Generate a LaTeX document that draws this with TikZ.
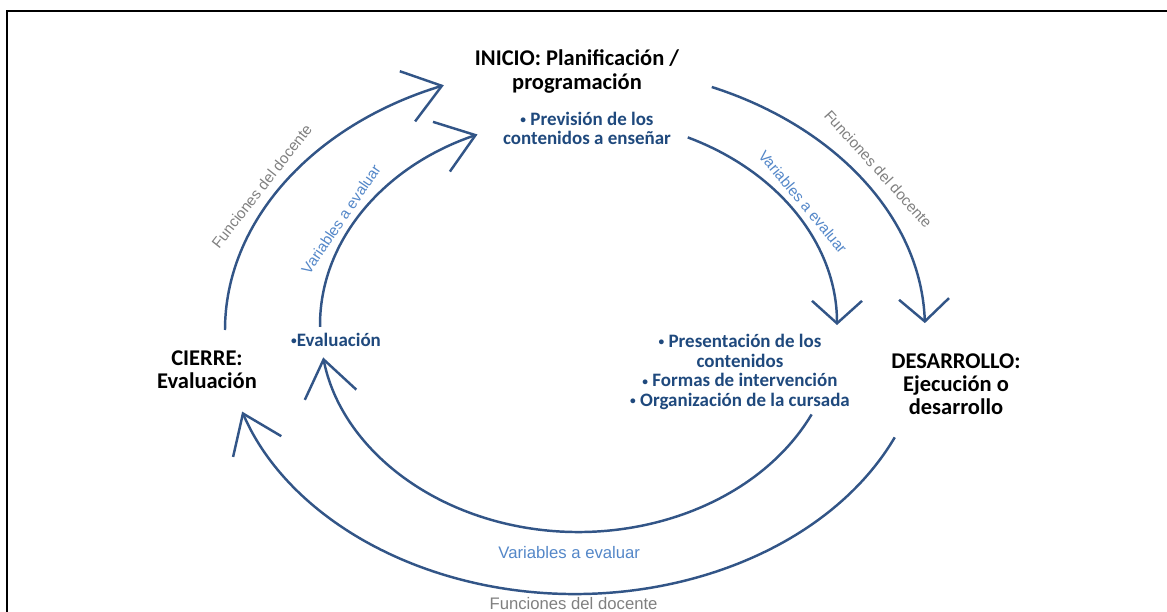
\documentclass[tikz,border=0pt]{standalone}
\usepackage{fontspec}
\setmainfont{Carlito}
\newfontfamily\arialfont{Liberation Sans}
\usetikzlibrary{arrows.meta}
\definecolor{flechaazul}{RGB}{50,85,135}
\definecolor{textoazul}{RGB}{31,73,125}
\definecolor{azulclaro}{RGB}{84,135,200}
\definecolor{gris}{RGB}{128,128,128}
\newcommand{\vineta}{{\fontsize{6.5}{6.5}\selectfont\raisebox{0.3ex}{•}}}

\begin{document}
\begin{tikzpicture}[x=0.02cm, y=0.02cm,
    flecha/.style={draw=flechaazul, line width=1.4pt, line join=round, -{Straight Barb[length=0.72cm, width=1.05cm]}},
    flechacorta/.style={flecha, -{Straight Barb[length=0.45cm, width=1.0cm]}},
    elipext/.style={x radius=350, y radius=264},
    elipint/.style={x radius=258.5, y radius=207},
    etapa/.style={align=center, font=\bfseries\fontsize{12.8}{13.2}\selectfont},
    tarea/.style={align=center, text=textoazul, font=\bfseries\fontsize{10.8}{11.2}\selectfont},
    funcion/.style={text=gris, font=\arialfont\fontsize{9.5}{11}\selectfont},
    evalvar/.style={text=azulclaro, font=\arialfont\fontsize{9.5}{11}\selectfont},
    curva/.style={sloped, font=\arialfont\fontsize{8.6}{10}\selectfont}]
        \useasboundingbox (0,0) rectangle (1167,-612);
        %marco
        \draw[line width=1.2pt] (7,-612) -- (7,-11) -- (1167,-11);

        %centros
        \coordinate (ext) at (575,-330);
        \coordinate (int) at (578.5,-325);

        %etapas
        \node[etapa, name=inicio    ] at (577,-71.5) {INICIO: Planificación /\\programación};
        \node[etapa, name=desarrollo] at (956,-384)  {DESARROLLO:\\Ejecución o\\desarrollo};
        \node[etapa, name=cierre    ] at (207,-370)  {CIERRE:\\Evaluación};

        %tareas
        \node[tarea, name=prevision   ] at (587,-128.5) {\vineta\ Previsión de los\\contenidos a enseñar};
        \node[tarea, name=presentacion] at (740,-372)   {\vineta\ Presentación de los\\contenidos\\\vineta\ Formas de intervención\\\vineta\ Organización de la cursada};
        \node[tarea, name=evaluacion  ] at (336,-340)   {\vineta Evaluación};

        %ciclo externo
        \draw[flecha]      (ext) ++(180:350 and 264) arc[elipext, start angle=180, end angle=112]
            node[pos=0.45, funcion, curva, above=1.5pt] {Funciones del docente};
        \draw[flechacorta] (ext) ++(67:350 and 264) arc[elipext, start angle=67, end angle=1.5]
            node[pos=0.5, funcion, curva, above=3.5pt] {Funciones del docente};
        \draw[flecha]      (ext) ++(-24:350 and 264) arc[elipext, start angle=-24, end angle=-162]
            node[pos=0.48, below=-2pt, funcion] {Funciones del docente};

        %ciclo interno
        \draw[flecha]      (int) ++(180.5:258.5 and 207) arc[elipint, start angle=180.5, end angle=113]
            node[pos=0.43, evalvar, curva, above] {Variables a evaluar};
        \draw[flechacorta] (int) ++(65:258.5 and 207) arc[elipint, start angle=65, end angle=0]
            node[pos=0.48, evalvar, curva, above] {Variables a evaluar};
        \draw[flecha]      (int) ++(-25.6:258.5 and 207) arc[elipint, start angle=-25.6, end angle=-171]
            node[pos=0.457, below=4pt, evalvar] {Variables a evaluar};
\end{tikzpicture}
\end{document}
